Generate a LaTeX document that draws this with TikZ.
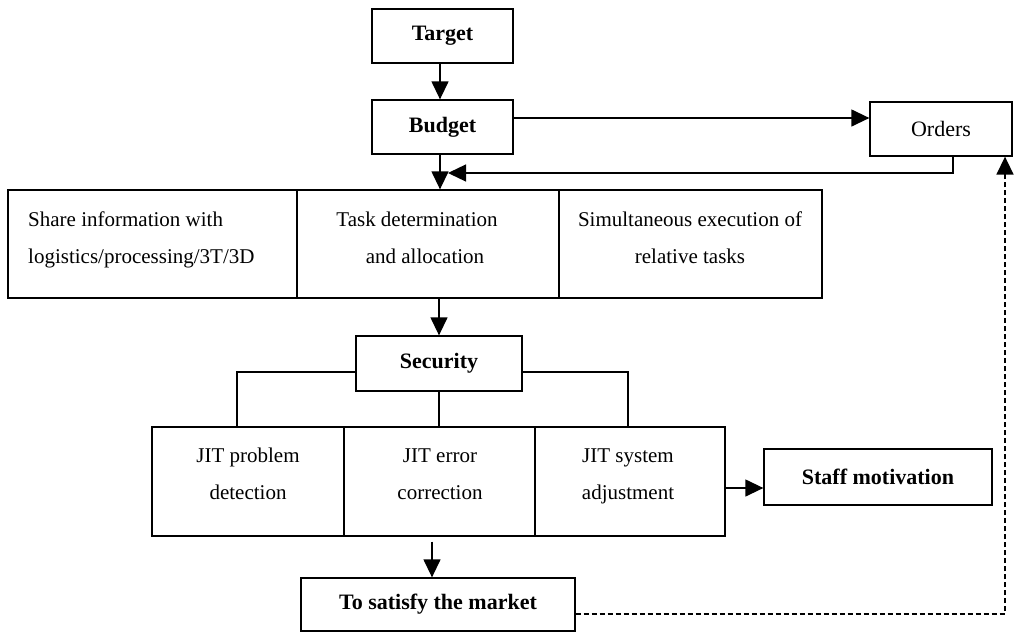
\documentclass[tikz,border=0pt]{standalone}
\usepackage{fontspec}
\setmainfont{Liberation Serif}
\usetikzlibrary{arrows.meta}
\begin{document}
\begin{tikzpicture}[x=1pt,y=-1pt,
  box/.style={draw, line width=1.3pt, rectangle, inner sep=0pt},
  bold/.style={font=\fontsize{22}{26}\selectfont\bfseries},
  plain/.style={font=\fontsize{22}{26}\selectfont},
  txt/.style={font=\fontsize{21}{25}\selectfont, inner sep=0pt, anchor=base},
  link/.style={line width=1.3pt},
  tip/.style={-{Triangle[length=18pt,width=17pt]}},
  arr/.style={link, tip},
  dsh/.style={line width=1.6pt, dash pattern=on 5pt off 3pt}]
\useasboundingbox (0,0) rectangle (1014,632);

% top chain
\node[box, bold, minimum width=141pt, minimum height=54pt] (target) at (442.5,36) {Target};
\node[box, bold, minimum width=141pt, minimum height=54pt] (budget) at (442.5,127) {Budget};
\node[box, plain, minimum width=142pt, minimum height=54pt] (orders) at (941,129) {Orders};

% planning row
\node[box, minimum width=289pt, minimum height=108pt] (share) at (152.5,244) {};
\node[box, minimum width=262pt, minimum height=108pt] (task) at (428,244) {};
\node[box, minimum width=263pt, minimum height=108pt] (simul) at (690.5,244) {};
\node[txt, anchor=base west] (share1) at (28,226) {Share information with};
\node[txt, anchor=base west] (share2) at (28,263) {logistics/processing/3T/3D};
\node[txt] (task1) at (417,226) {Task determination};
\node[txt] (task2) at (425,263) {and allocation};
\node[txt] (simul1) at (690,226) {Simultaneous execution of};
\node[txt] (simul2) at (690,263) {relative tasks};

% security and JIT row
\node[box, bold, minimum width=166pt, minimum height=55pt] (security) at (439,363.5) {Security};
\node[box, minimum width=192pt, minimum height=109pt] (jit1) at (248,481.5) {};
\node[box, minimum width=191pt, minimum height=109pt] (jit2) at (439.5,481.5) {};
\node[box, minimum width=190pt, minimum height=109pt] (jit3) at (630,481.5) {};
\node[txt] (jit1a) at (248,462) {JIT problem};
\node[txt] (jit1b) at (248,499) {detection};
\node[txt] (jit2a) at (440,462) {JIT error};
\node[txt] (jit2b) at (440,499) {correction};
\node[txt] (jit3a) at (628,462) {JIT system};
\node[txt] (jit3b) at (628,499) {adjustment};

\node[box, bold, minimum width=228pt, minimum height=56pt] (staff) at (878,477) {Staff motivation};
\node[box, bold, minimum width=274pt, minimum height=53pt] (market) at (438,604.5) {To satisfy the market};

% connectors
\draw[arr] ([xshift=-2.5pt]target.south) -- ([xshift=-2.5pt]budget.north);
\coordinate (bo) at ([yshift=9pt]budget.east);
\draw[arr] (bo) -- (bo -| orders.west);
\coordinate (ret) at (953,173);
\coordinate (retend) at (448,173);
\draw[arr] (orders.south -| ret) |- (retend);
\coordinate (bt) at ([xshift=-2.5pt]budget.south);
\draw[arr] (bt) -- (bt |- task.north);
\draw[arr] (security.north |- task.south) -- (security.north);

\coordinate (sl) at ([yshift=-8.5pt]security.west);
\coordinate (sr) at ([yshift=-8.5pt]security.east);
\coordinate (bl) at (237,427);
\coordinate (br) at (628,427);
\draw[link] (sl) -| (bl);
\draw[link] (sr) -| (br);
\draw[link] (security.south) -- (security.south |- jit2.north);

\coordinate (js) at ([yshift=-6.5pt]jit3.east);
\draw[arr] (js) -- (js -| staff.west);
\coordinate (jm) at ([xshift=-7.5pt]jit2.south);
\draw[arr, shorten <=5pt] (jm) -- (jm |- market.north);

% dashed feedback from the market back to the orders
\coordinate (mk) at ([yshift=-9.5pt]market.east);
\coordinate (dx) at (1005,0);
\draw[dsh, tip] (mk) -| (orders.south -| dx);
\end{tikzpicture}
\end{document}
